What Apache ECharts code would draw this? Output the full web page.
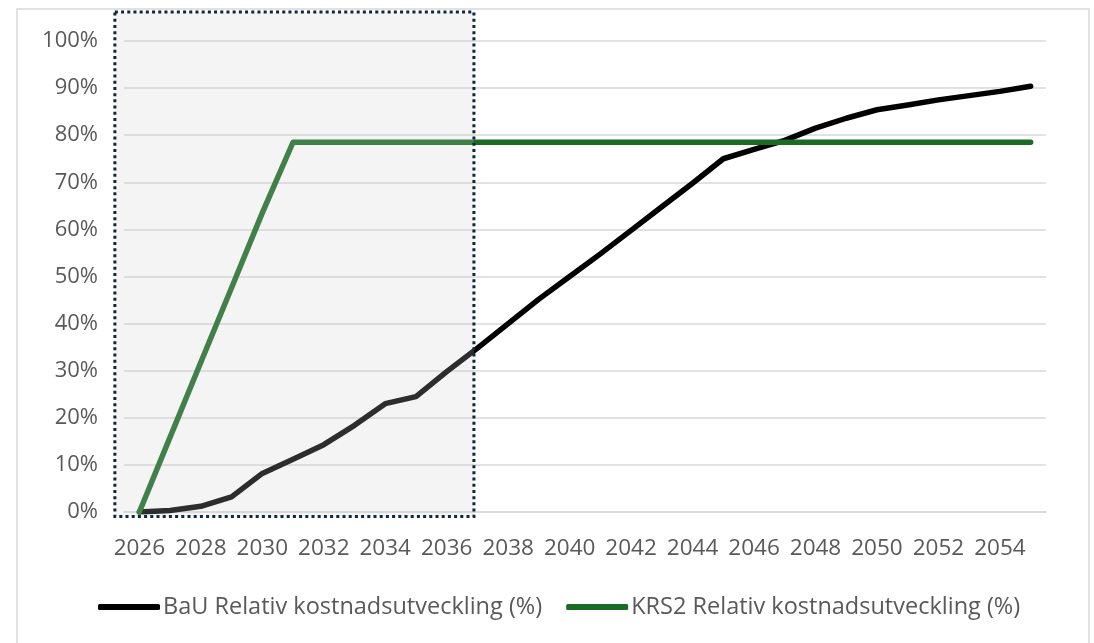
<!DOCTYPE html>
<html>
<head>
<meta charset="utf-8">
<script src="https://cdn.jsdelivr.net/npm/echarts@6/dist/echarts.min.js"></script>
<style>
html,body{margin:0;padding:0;background:#fff;}
#c{width:1094px;height:643px;}
</style>
</head>
<body>
<div id="c"></div>
<script>
const years = ['2026','2027','2028','2029','2030','2031','2032','2033','2034','2035','2036','2037','2038','2039','2040','2041','2042','2043','2044','2045','2046','2047','2048','2049','2050','2051','2052','2053','2054','2055'];
const bauValues = [0, 0.3, 1.2, 3.2, 8.2, 11.2, 14.3, 18.4, 23.0, 24.5, 29.8, 34.8, 40.0, 45.2, 50.0, 54.8, 59.8, 64.8, 69.8, 75.0, 77.0, 78.9, 81.5, 83.6, 85.4, 86.4, 87.5, 88.4, 89.3, 90.4];
const krs2Values = [0, 15.9, 31.8, 47.6, 63.5, 78.5, 78.5, 78.5, 78.5, 78.5, 78.5, 78.5, 78.5, 78.5, 78.5, 78.5, 78.5, 78.5, 78.5, 78.5, 78.5, 78.5, 78.5, 78.5, 78.5, 78.5, 78.5, 78.5, 78.5, 78.5];
const seriesNames = ['BaU Relativ kostnadsutveckling (%)', 'KRS2 Relativ kostnadsutveckling (%)'];

(function () {
const chart = echarts.init(document.getElementById('c'));
const font = 'Open Sans, Noto Sans, sans-serif';
const option = {
  animation: false,
  backgroundColor: '#fff',
  grid: {left: 124, right: 48, top: 41, bottom: 131, containLabel: false},
  legend: {
    bottom: 19,
    left: 93,
    itemWidth: 62,
    itemHeight: 6,
    itemGap: 24,
    icon: 'roundRect',
    textStyle: {fontFamily: font, fontSize: 23.5, color: '#595959', padding: [0,0,0,-2]},
    data: seriesNames
  },
  xAxis: {
    type: 'category',
    data: years,
    boundaryGap: true,
    axisLine: {show: true, lineStyle: {color: '#d9d9d9', width: 1.5}},
    axisTick: {show: false},
    axisLabel: {interval: 1, color: '#595959', fontFamily: font, fontSize: 22.5, margin: 25}
  },
  yAxis: {
    type: 'value',
    min: 0, max: 100, interval: 10,
    axisLine: {show: false},
    axisTick: {show: false},
    splitLine: {lineStyle: {color: '#d9d9d9', width: 1.5}},
    axisLabel: {formatter: '{value}%', color: '#595959', fontFamily: font, fontSize: 22, margin: 26}
  },
  series: [
    {name: seriesNames[0], type: 'line', data: bauValues, symbol: 'none', color: '#000000',
     lineStyle: {width: 5.5, color: '#000000', cap: 'round', join: 'round'}},
    {name: seriesNames[1], type: 'line', data: krs2Values, symbol: 'none', color: '#1b6b25',
     lineStyle: {width: 5.5, color: '#1b6b25', cap: 'round', join: 'round'}}
  ]
};
chart.setOption(option);

// annotation box, positioned from the axes
const p0 = chart.convertToPixel({xAxisIndex: 0, yAxisIndex: 0}, ['2026', 100]);
const p1 = chart.convertToPixel({xAxisIndex: 0, yAxisIndex: 0}, ['2037', 0]);
const bx0 = p0[0] - 24.5, by0 = p0[1] - 29;
const bx1 = p1[0] - 3.5, by1 = p1[1] + 4.5;
chart.setOption({
  graphic: [
    {type: 'rect', z: 0, silent: true,
     shape: {x: 17, y: 9, width: 1072, height: 660},
     style: {fill: 'none', stroke: '#d9d9d9', lineWidth: 1.5}},
    {type: 'rect', z: 100, silent: true,
     shape: {x: bx0, y: by0, width: bx1 - bx0, height: by1 - by0},
     style: {fill: 'rgba(205,205,205,0.22)', stroke: '#10263a', lineWidth: 3, lineDash: [3, 3.2]}}
  ]
});
})();
</script>
</body>
</html>
